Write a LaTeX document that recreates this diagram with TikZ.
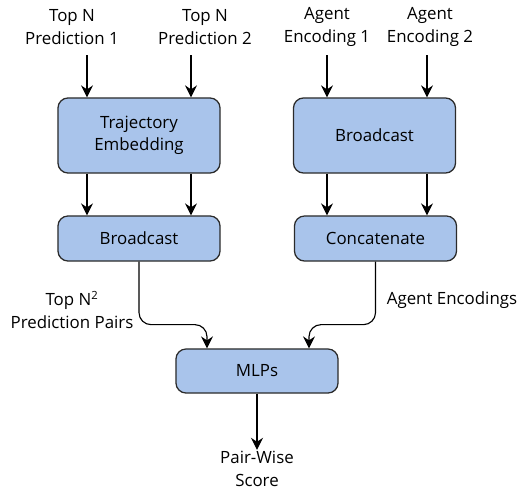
\documentclass[tikz,border=0pt]{standalone}
\usepackage{fontspec}
\setmainfont{Open Sans}
\usepackage{xcolor}
\definecolor{BoxBlue}{HTML}{A9C4EB}
\definecolor{BoxEdge}{HTML}{2B2B2B}
\usepackage{tikz}
\usetikzlibrary{positioning}
\usetikzlibrary{calc}
\usetikzlibrary{arrows, arrows.meta}

\begin{document}
\begin{tikzpicture}[
    x=0.025cm, y=-0.025cm,
    font=\fontsize{12}{16}\selectfont,
    blockBlue/.style={rectangle,
    draw=BoxEdge,
    fill=BoxBlue,
    line width=0.9pt,
    minimum width=4.05cm,
    align=center,
    rounded corners=2.5mm},
    bigBlock/.style={blockBlue, minimum height=1.875cm},
    smallBlock/.style={blockBlue, minimum height=1.125cm},
    inLabel/.style={align=center, inner sep=1pt},
    flowArrow/.style={line width=0.8pt, >={Stealth[length=3mm, width=3mm, inset=1mm]}, ->}
    ]
    \useasboundingbox (0,0) rectangle (519,493);
    % inputs
    \node[inLabel] (p1) at (72,27) {Top N\\Prediction 1};
    \node[inLabel] (p2) at (205,27) {Top N\\Prediction 2};
    \node[inLabel] (a1) at (327,27) {Agent\\Encoding 1};
    \node[inLabel] (a2) at (430,27) {Agent\\Encoding 2};
    % blocks
    \node[bigBlock] (te) at (139,135.5) {Trajectory\\Embedding};
    \node[bigBlock] (bcr) at (374.5,135.5) {Broadcast};
    \node[smallBlock] (bcl) at (139,238.5) {Broadcast};
    \node[smallBlock] (cct) at (375.5,238.5) {Concatenate};
    \node[blockBlue, minimum height=1.1cm] (mlp) at (257,371) {MLPs};
    \node[inLabel] (ps) at (257,469) {Pair-Wise\\Score};
    % side labels
    \node[inLabel] (pp) at (72,310) {Top N\textsuperscript{2}\\Prediction Pairs};
    \node[inLabel] (ae) at (452,300) {Agent Encodings};
    % arrow starts
    \coordinate (t1) at (87,55);
    \coordinate (t2) at (191,55);
    \coordinate (t3) at (327,55);
    \coordinate (t4) at (427,55);
    \draw[flowArrow] (t1) -- (t1 |- te.north);
    \draw[flowArrow] (t2) -- (t2 |- te.north);
    \draw[flowArrow] (t3) -- (t3 |- bcr.north);
    \draw[flowArrow] (t4) -- (t4 |- bcr.north);
    \draw[flowArrow] (t1 |- te.south) -- (t1 |- bcl.north);
    \draw[flowArrow] (t2 |- te.south) -- (t2 |- bcl.north);
    \draw[flowArrow] (t3 |- bcr.south) -- (t3 |- cct.north);
    \draw[flowArrow] (t4 |- bcr.south) -- (t4 |- cct.north);
    \draw[flowArrow, rounded corners=3mm] (bcl.south) -- ++(0,63) -| ([xshift=-1.25cm]mlp.north);
    \draw[flowArrow, rounded corners=3mm] (cct.south) -- ++(0,63) -| ([xshift=1.3cm]mlp.north);
    \draw[flowArrow] (mlp.south) -- (ps.north);
\end{tikzpicture}
\end{document}
